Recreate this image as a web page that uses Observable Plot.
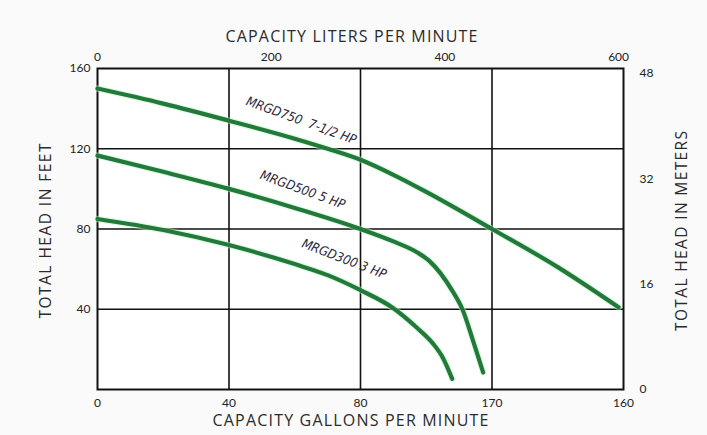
<!DOCTYPE html>
<html>
<head>
<meta charset="utf-8">
<script src="https://cdn.jsdelivr.net/npm/d3@7"></script>
<script src="https://cdn.jsdelivr.net/npm/@observablehq/plot@0.6"></script>
<style>
  html, body { margin: 0; padding: 0; background: #fafafa; }
  #chart svg { display: block; }
</style>
</head>
<body>
<div id="chart"></div>
<script>
// ---- Data (gallons per minute vs. total head in feet) ----
const mrgd750Gpm  = [0, 20, 40, 60, 70, 80, 90, 100, 120, 140, 158.5];
const mrgd750Feet = [150, 142.5, 134, 125, 120, 114.5, 107, 98.5, 80, 61, 41];

const mrgd500Gpm  = [0, 20, 40, 60, 80, 90, 97.3, 101, 104.3, 108, 111, 114.3, 117.3];
const mrgd500Feet = [116.6, 108.5, 100, 90.5, 80, 73.8, 68.3, 64, 58, 49, 40, 24, 8.5];

const mrgd300Gpm  = [0, 20, 40, 60, 70, 80, 90, 97, 102, 105, 107.9];
const mrgd300Feet = [85, 79.5, 72, 62.5, 57, 49.5, 40.5, 31, 23, 16, 5.3];

const seriesNames  = ["MRGD750", "MRGD500", "MRGD300"];
const curveLabels  = ["MRGD750  7-1/2 HP", "MRGD500 5 HP", "MRGD300 3 HP"];
const labelGpm     = [62, 62.4, 75];
const labelFeet    = [134, 99.5, 65];
const labelAngle   = [20, 20, 21];

// ---- Axis ticks ----
const gpmTicks    = [0, 40, 80, 120, 160];
const gpmLabels   = ["0", "40", "80", "170", "160"];
const feetTicks   = [40, 80, 120, 160];
const literTicks  = [0, 200, 400, 600];
const meterTicks  = [0, 16, 32, 48];
const gridX       = [40, 80, 120];
const gridY       = [40, 80, 120];

const titleTop    = "CAPACITY LITERS PER MINUTE";
const titleBottom = "CAPACITY GALLONS PER MINUTE";
const titleLeft   = "TOTAL HEAD IN FEET";
const titleRight  = "TOTAL HEAD IN METERS";

const LITERS_PER_GALLON = 3.78541;
const FEET_PER_METER = 3.28084;

// Build tidy table
const curves = [];
[[mrgd750Gpm, mrgd750Feet], [mrgd500Gpm, mrgd500Feet], [mrgd300Gpm, mrgd300Feet]]
  .forEach(([gx, fy], s) => gx.forEach((g, i) => curves.push({series: seriesNames[s], gpm: g, feet: fy[i]})));
const labels = curveLabels.map((t, i) => ({text: t, gpm: labelGpm[i], feet: labelFeet[i], angle: labelAngle[i]}));

const gpmLab = new Map(gpmTicks.map((t, i) => [t, gpmLabels[i]]));
const font = "Lato, 'Open Sans', sans-serif";
const titleFont = "'Open Sans', Lato, sans-serif";

const chart = Plot.plot({
  width: 707,
  height: 435,
  marginLeft: 97,
  marginRight: 84,
  marginTop: 68,
  marginBottom: 46,
  style: {background: "#fafafa", fontFamily: font, fontSize: "12px", color: "#222"},
  x: {domain: [0, 160]},
  y: {domain: [0, 160]},
  marks: [
    Plot.frame({fill: "white", stroke: "none"}),
    Plot.gridX(gridX, {stroke: "#111", strokeOpacity: 1, strokeWidth: 1.6}),
    Plot.gridY(gridY, {stroke: "#111", strokeOpacity: 1, strokeWidth: 1.6}),
    Plot.frame({stroke: "#111", strokeWidth: 2}),
    Plot.line(curves, {x: "gpm", y: "feet", z: "series", curve: "monotone-x",
      stroke: "#c4f2cb", strokeWidth: 6.5, strokeOpacity: 0.5}),
    Plot.line(curves, {x: "gpm", y: "feet", z: "series", curve: "monotone-x",
      stroke: "#217a3a", strokeWidth: 4.2}),
    Plot.text(labels, {x: "gpm", y: "feet", text: "text", rotate: "angle",
      fontFamily: "'DejaVu Sans Condensed', 'Liberation Sans Narrow', sans-serif",
      fontSize: 13, fontStyle: "italic", fill: "#2a2a3c"}),
    // bottom axis (gallons per minute)
    Plot.axisX({anchor: "bottom", ticks: gpmTicks, tickFormat: d => gpmLab.get(d),
      tickSize: 0, tickPadding: 9, label: null, fontSize: 12}),
    // top axis (liters per minute)
    Plot.axisX({anchor: "top", ticks: literTicks.map(l => l / LITERS_PER_GALLON),
      tickFormat: d => String(Math.round(d * LITERS_PER_GALLON)),
      tickSize: 0, tickPadding: 8, label: null, fontSize: 12}),
    // left axis (feet)
    Plot.axisY({anchor: "left", ticks: feetTicks, tickSize: 0, tickPadding: 7, label: null, fontSize: 12}),
    // right axis (meters)
    Plot.axisY({anchor: "right", ticks: meterTicks.map(m => m * FEET_PER_METER),
      tickFormat: d => String(Math.round(d / FEET_PER_METER)),
      tickSize: 0, tickPadding: 16, label: null, fontSize: 12}),
    // axis titles
    Plot.text([titleTop], {frameAnchor: "top", dx: -9, dy: -38, fontSize: 16, fontFamily: titleFont, fill: "#2b2b2b", textAnchor: "middle"}),
    Plot.text([titleBottom], {frameAnchor: "bottom", dx: -10, dy: 36, fontSize: 16, fontFamily: titleFont, fill: "#2b2b2b", textAnchor: "middle"}),
    Plot.text([titleLeft], {frameAnchor: "left", dx: -51, dy: 2, rotate: -90, fontSize: 15.5, fontFamily: titleFont, fill: "#2b2b2b", textAnchor: "middle"}),
    Plot.text([titleRight], {frameAnchor: "right", dx: 59, dy: 2, rotate: -90, fontSize: 15.5, fontFamily: titleFont, fill: "#2b2b2b", textAnchor: "middle"})
  ]
});

// stretch titles to the widths of the reference lettering
const titleWidths = new Map([[titleTop, 252], [titleBottom, 276], [titleLeft, 175], [titleRight, 200]]);
d3.select(chart).selectAll("text")
  .filter(function() { return titleWidths.has(this.textContent); })
  .attr("textLength", function() { return titleWidths.get(this.textContent); })
  .attr("lengthAdjust", "spacing");

document.getElementById("chart").appendChild(chart);
</script>
</body>
</html>
